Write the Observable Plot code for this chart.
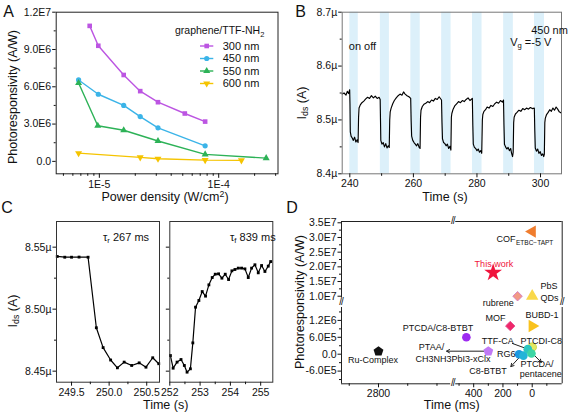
<!DOCTYPE html>
<html><head><meta charset="utf-8">
<script src="https://cdn.jsdelivr.net/npm/d3@7"></script>
<script src="https://cdn.jsdelivr.net/npm/@observablehq/plot@0.6"></script>
<style>
html,body{margin:0;padding:0;background:#fff;}
#wrap{position:relative;width:569px;height:415px;overflow:hidden;font-family:Arial,"Liberation Sans",sans-serif;color:#111;}
#wrap > svg{position:absolute;overflow:visible;}
.lbl{position:absolute;line-height:1;white-space:nowrap;}
.lbl sub{font-size:70%;vertical-align:-0.3em;line-height:0;}
.lbl sup{font-size:70%;vertical-align:0.45em;line-height:0;}
.brk{position:absolute;background:#fff;font-size:10px;line-height:1;transform:translate(-50%,-50%);padding:0 1px;letter-spacing:-1px;}
</style></head>
<body><div id="wrap"></div>
<script>
// ================= DATA =================
// Panel A: photoresponsivity vs power density
const seriesA = ["300 nm", "450 nm", "550 nm", "600 nm"];
const power300 = [8.3e-6, 9.8e-6, 1.6e-5, 2.2e-5, 3.1e-5, 5.2e-5, 7.7e-5];
const resp300  = [1.09e7, 9.3e6, 6.95e6, 5.65e6, 4.76e6, 3.85e6, 3.2e6];
const power450 = [6.7e-6, 9.8e-6, 1.6e-5, 2.2e-5, 3.1e-5, 7.7e-5];
const resp450  = [6.55e6, 5.4e6, 4.5e6, 3.6e6, 2.7e6, 1.25e6];
const power550 = [6.7e-6, 9.7e-6, 1.6e-5, 3.1e-5, 7.7e-5, 2.5e-4];
const resp550  = [6.3e6, 2.87e6, 2.5e6, 1.64e6, 0.56e6, 0.26e6];
const power600 = [6.7e-6, 2.2e-5, 3.1e-5, 7.7e-5, 1.55e-4];
const resp600  = [0.66e6, 0.32e6, 0.21e6, 0.1e6, 0.08e6];
const ticksAX = [1e-5, 1e-4];
const ticksAY = [0, 3e6, 6e6, 9e6, 1.2e7];

// Panel B: on/off current trace
const bandStart = [240, 249.6, 259.2, 268.9, 278.6, 288.4, 298.1];
const bandEnd   = [242.65, 252.45, 262.15, 271.85, 281.6, 291.45, 301.25];
const timeB = [
237.6,238.2,238.8,239.2,239.6,239.95,
240.05,240.15,240.4,240.8,241.1,241.5,241.9,242.3,242.6,
242.75,242.9,243.3,243.8,244.4,245.0,245.6,246.2,246.8,247.4,248.0,248.6,249.2,249.55,
249.65,249.75,250.1,250.5,250.9,251.3,251.7,252.1,252.4,
252.55,252.7,253.0,253.5,254.0,254.6,255.2,255.8,256.4,256.9,257.4,258.0,258.6,259.15,
259.3,259.45,259.8,260.2,260.6,261.0,261.4,261.8,262.1,
262.25,262.4,262.8,263.3,263.9,264.5,265.1,265.7,266.3,266.9,267.5,268.1,268.85,
269.0,269.15,269.5,269.9,270.3,270.7,271.1,271.5,271.8,
271.95,272.1,272.5,273.0,273.6,274.2,274.8,275.4,276.0,276.6,277.2,277.8,278.55,
278.7,278.85,279.2,279.6,280.0,280.4,280.8,281.2,281.5,
281.7,281.85,282.2,282.7,283.2,283.8,284.4,285.0,285.6,286.2,286.8,287.4,288.0,288.35,
288.5,288.65,289.0,289.4,289.8,290.2,290.6,290.9,291.2,291.4,
291.55,291.7,292.1,292.6,293.2,293.8,294.4,295.0,295.6,296.2,296.8,297.4,298.05,
298.2,298.35,298.7,299.1,299.5,299.9,300.3,300.7,301.0,301.2,
301.35,301.5,301.9,302.4,302.9,303.4,303.9,304.4,304.9,305.4,305.9,306.5];
const currentB = [
8.548,8.550,8.546,8.553,8.549,8.556,
8.530,8.478,8.470,8.466,8.462,8.468,8.459,8.463,8.458,
8.505,8.522,8.528,8.532,8.535,8.539,8.542,8.540,8.545,8.541,8.544,8.540,8.542,8.538,
8.500,8.462,8.455,8.458,8.450,8.456,8.448,8.452,8.449,
8.500,8.515,8.522,8.530,8.536,8.541,8.545,8.548,8.546,8.552,8.548,8.545,8.543,8.540,
8.498,8.470,8.462,8.458,8.455,8.452,8.456,8.449,8.447,
8.505,8.518,8.525,8.529,8.531,8.534,8.532,8.537,8.535,8.540,8.538,8.543,8.537,
8.495,8.465,8.458,8.456,8.452,8.455,8.447,8.451,8.444,
8.505,8.512,8.520,8.526,8.530,8.534,8.532,8.536,8.534,8.538,8.541,8.536,8.540,
8.490,8.455,8.449,8.447,8.443,8.446,8.440,8.443,8.438,
8.500,8.510,8.516,8.519,8.524,8.522,8.527,8.525,8.530,8.533,8.531,8.536,8.533,8.537,
8.490,8.455,8.450,8.446,8.449,8.443,8.447,8.438,8.432,8.440,
8.495,8.505,8.511,8.514,8.518,8.516,8.521,8.519,8.522,8.520,8.523,8.521,8.522,
8.480,8.448,8.442,8.446,8.438,8.441,8.434,8.437,8.432,8.436,
8.495,8.503,8.510,8.514,8.519,8.516,8.522,8.518,8.524,8.520,8.515,8.513];
const ticksBX = [240, 260, 280, 300];
const ticksBY = [8.4, 8.5, 8.6, 8.7];

// Panel C: rise / fall zoom
const timeCL = [249.31,249.41,249.50,249.60,249.72,249.83,249.92,250.02,250.11,250.20,250.30,250.40,250.49,250.58,250.66];
const currentCL = [8.5425,8.5419,8.5419,8.5420,8.5419,8.4850,8.4690,8.4590,8.4527,8.4573,8.4546,8.4567,8.4532,8.4608,8.4560];
const timeCR = [252.02,252.11,252.24,252.37,252.48,252.57,252.68,252.76,252.85,252.96,253.07,253.18,253.29,253.40,253.50,253.61,253.72,253.83,253.94,254.05,254.15,254.26,254.37,254.48,254.59,254.70,254.81,254.92,255.03,255.14,255.25,255.33];
const currentCR = [8.4626,8.4524,8.4573,8.4594,8.4546,8.4492,8.4519,8.4728,8.5016,8.5070,8.5142,8.5105,8.5196,8.5255,8.5282,8.5285,8.5250,8.5282,8.5239,8.5309,8.5320,8.5331,8.5331,8.5325,8.5255,8.5331,8.5358,8.5293,8.5352,8.5304,8.5347,8.5384];
const ticksCY = [8.45, 8.50, 8.55];
const ticksCXL = [249.5, 250.0, 250.5];
const ticksCXR = [252, 253, 254, 255];

// Panel D: comparison
const devicesD = ["COF","This work","rubrene","PbS QDs","MOF","BUBD-1","PTCDA/C8-BTBT","PTAA/CH3NH3PbI3-xClx","Ru-Complex","PTCDI-C8","RG6","C8-BTBT","TTF-CA","PTCDA/pentacene"];
const timeD = [0, 267, 100, 0, 150, 0, 450, 300, 2800, 0, 90, 60, 30, 5];
const respD = [3.2e7, 1.8e7, 1.0e7, 1.0e7, 1.0e6, 1.0e6, 6.0e5, 1.0e5, 1.0e5, 2.5e5, 0, -5e4, 1.8e5, 2.5e4];
const ticksDYu = [1.0e7, 1.5e7, 2.0e7, 2.5e7, 3.0e7, 3.5e7];
const ticksDYl = [-6e5, 0, 6e5, 1.2e6];
const ticksDXl = [2800];
const ticksDXr = [400, 200, 0];

// ================= STYLE / LAYOUT =================
const FONT = 'Arial, "Liberation Sans", sans-serif';
const st = fs => ({fontFamily: FONT, fontSize: fs, background: "transparent", overflow: "visible", color: "#111"});
const colorsA = ["#BC55E2", "#3BB4E8", "#2DB257", "#F5C400"];
const symA = ["square", "circle", "triangle", "triangle"];
const rotA = [0, 0, 0, 180];
const sci = v => { if (Math.abs(v) < 1e-9) return "0.0"; const e = Math.floor(Math.log10(Math.abs(v)) + 1e-9); return (v / 10 ** e).toFixed(1) + "E" + e; };
const wrap = document.getElementById("wrap");
function put(svg, left, top) { svg.style.position = "absolute"; svg.style.left = left + "px"; svg.style.top = top + "px"; wrap.appendChild(svg); }
function label(html, x, y, o = {}) {
  const d = document.createElement("div");
  d.className = "lbl"; d.innerHTML = html;
  d.style.left = x + "px"; d.style.top = y + "px";
  d.style.fontSize = (o.size || 12.5) + "px";
  if (o.color) d.style.color = o.color;
  const ax = o.anchor === "start" ? "0%" : o.anchor === "end" ? "-100%" : "-50%";
  d.style.transform = `translate(${ax},-50%)` + (o.rotate ? ` rotate(${o.rotate}deg)` : "");
  wrap.appendChild(d);
}
function brk(x, y) { const d = document.createElement("div"); d.className = "brk"; d.textContent = "//"; d.style.left = x + "px"; d.style.top = y + "px"; wrap.appendChild(d); }
const blank = () => "";

// ================= PANEL A =================
const tableA = [[power300, resp300], [power450, resp450], [power550, resp550], [power600, resp600]]
  .flatMap(([p, r], i) => p.map((x, j) => ({series: seriesA[i], power: x, resp: r[j]})));
const minorAX = [5e-6,6e-6,7e-6,8e-6,9e-6,2e-5,3e-5,4e-5,5e-5,6e-5,7e-5,8e-5,9e-5,2e-4,3e-4];
const minorAY = [1.5e6, 4.5e6, 7.5e6, 1.05e7];
put(Plot.plot({
  width: 285, height: 205, marginLeft: 55.7, marginRight: 7.5, marginTop: 11.7, marginBottom: 31.7,
  style: st("10.5px"),
  x: {type: "log", domain: [4.35e-6, 3.14e-4], label: null},
  y: {domain: [-1e6, 1.2e7], label: null},
  color: {domain: seriesA, range: colorsA},
  symbol: {domain: seriesA, range: symA},
  marks: [
    Plot.line(tableA, {x: "power", y: "resp", stroke: "series", strokeWidth: 1.4}),
    Plot.dot(tableA, {x: "power", y: "resp", fill: "series", symbol: "series", r: 2.6, rotate: d => rotA[seriesA.indexOf(d.series)]}),
    Plot.frame({stroke: "#222"}),
    Plot.axisX(minorAX, {tickSize: 2.5, tickFormat: blank, label: null}),
    Plot.axisX(ticksAX, {tickSize: 4.5, tickPadding: 2, tickFormat: d => "1E" + Math.round(Math.log10(d)), label: null}),
    Plot.axisY(minorAY, {tickSize: 2, tickFormat: blank, label: null}),
    Plot.axisY(ticksAY, {tickSize: 3.5, tickPadding: 1.5, tickFormat: sci, label: null})
  ]
}), 0, 0);

// legend A
const legA = d3.create("svg").attr("width", 120).attr("height", 72).style("left", "170px").style("top", "22px")
  .attr("font-family", FONT).attr("fill", "#111");
const tA = legA.append("text").attr("x", 5).attr("y", 8).attr("dy", "0.35em").attr("font-size", 10.5);
tA.append("tspan").text("graphene/TTF-NH");
tA.append("tspan").attr("font-size", 7.5).attr("dy", 3).text("2");
const d3sym = {square: d3.symbolSquare, circle: d3.symbolCircle, triangle: d3.symbolTriangle};
seriesA.forEach((n, i) => {
  const y = 24 + i * 12.5;
  legA.append("line").attr("x1", 30).attr("x2", 43.3).attr("y1", y).attr("y2", y).attr("stroke", colorsA[i]).attr("stroke-width", 1.4);
  legA.append("path").attr("d", d3.symbol(d3sym[symA[i]], Math.PI * 2.6 * 2.6)()).attr("transform", `translate(36.7,${y}) rotate(${rotA[i]})`).attr("fill", colorsA[i]);
  legA.append("text").attr("x", 52.7).attr("y", y).attr("dy", "0.35em").attr("font-size", 11).text(n);
});
wrap.appendChild(legA.node());

// ================= PANEL B =================
const bands = bandStart.map((s, i) => ({s, e: bandEnd[i]}));
const traceB = timeB.map((t, i) => ({t, v: currentB[i]}));
put(Plot.plot({
  width: 284, height: 205, marginLeft: 56.7, marginRight: 8, marginTop: 11.7, marginBottom: 31.7,
  style: st("10.5px"),
  x: {domain: [237.6, 306.6], label: null},
  y: {domain: [8.4, 8.7], label: null},
  marks: [
    Plot.rect(bands, {x1: "s", x2: "e", fill: "#DCF0FA"}),
    Plot.line(traceB, {x: "t", y: "v", stroke: "#000", strokeWidth: 1.15}),
    Plot.frame({stroke: "#777"}),
    Plot.axisX([250, 270, 290], {tickSize: 2.5, tickFormat: blank, label: null}),
    Plot.axisX(ticksBX, {tickSize: 4, tickPadding: 2, label: null}),
    Plot.axisY([8.45, 8.55, 8.65], {tickSize: 2, tickFormat: blank, label: null}),
    Plot.axisY(ticksBY, {tickSize: 3.5, tickPadding: 1.5, tickFormat: d => d.toFixed(1) + "µ", label: null}),
    Plot.text(["on off"], {frameAnchor: "top-left", dx: 6.6, dy: 30, textAnchor: "start", fontSize: 11}),
    Plot.text(["450 nm"], {frameAnchor: "top-left", dx: 189, dy: 14, fontSize: 11})
  ]
}), 285, 0);

// ================= PANEL C =================
function cPlot(t, v, xDomain, mL, mR, xTicks, xMinor, fmt, yLabels) {
  const rows = t.map((x, i) => ({t: x, v: v[i]}));
  return Plot.plot({
    width: 285, height: 210, marginLeft: mL, marginRight: mR, marginTop: 16, marginBottom: 33.3,
    style: st("10.5px"),
    x: {domain: xDomain, label: null},
    y: {domain: [8.4411, 8.5707], label: null},
    marks: [
      Plot.line(rows, {x: "t", y: "v", stroke: "#000", strokeWidth: 1.2}),
      Plot.dot(rows, {x: "t", y: "v", symbol: "square", fill: "#000", r: 1.6}),
      Plot.frame({stroke: "#333"}),
      Plot.axisX(xMinor, {tickSize: 2.5, tickFormat: blank, label: null}),
      Plot.axisX(xTicks, {tickSize: 4, tickPadding: 2, tickFormat: fmt, label: null}),
      Plot.axisY([8.475, 8.525], {tickSize: 2, tickFormat: blank, label: null}),
      Plot.axisY(ticksCY, {tickSize: 3.5, tickPadding: 1.5, tickFormat: yLabels ? (d => d.toFixed(2) + "µ") : blank, label: null})
    ]
  });
}
put(cPlot(timeCL, currentCL, [249.3, 250.67], 56, 126, ticksCXL, [249.75, 250.25], d => d.toFixed(1), true), 0, 205);
put(cPlot(timeCR, currentCR, [252, 255.4], 169.3, 12.7, ticksCXR, [252.5, 253.5, 254.5], d => String(d), false), 0, 205);

// ================= PANEL D =================
const pentagon = {draw(ctx, size) {
  const R = Math.sqrt(size / 2.3776);
  for (let k = 0; k < 5; k++) { const a = -Math.PI / 2 + k * 2 * Math.PI / 5; const x = R * Math.cos(a), y = R * Math.sin(a); k ? ctx.lineTo(x, y) : ctx.moveTo(x, y); }
  ctx.closePath();
}};
const styleD = {
  "COF": {symbol: "triangle", rotate: -90, fill: "#F07D2E", r: 4.6},
  "This work": {symbol: "star", rotate: 0, fill: "#F0143C", r: 5.6},
  "rubrene": {symbol: "square", rotate: 45, fill: "#F29A86", stroke: "#D07BC8", r: 3.8},
  "PbS QDs": {symbol: "triangle", rotate: 0, fill: "#F9D84A", r: 4.6},
  "MOF": {symbol: "square", rotate: 45, fill: "#F0286A", stroke: "#E05090", r: 3.8},
  "BUBD-1": {symbol: "triangle", rotate: 90, fill: "#F9C21E", r: 4.6},
  "PTCDA/C8-BTBT": {symbol: "circle", rotate: 0, fill: "#9E2BF0", r: 4.3},
  "PTAA/CH3NH3PbI3-xClx": {symbol: pentagon, rotate: 0, fill: "#C07AF5", r: 4.5},
  "Ru-Complex": {symbol: pentagon, rotate: 0, fill: "#111", r: 4.5},
  "PTCDI-C8": {symbol: "circle", rotate: 0, fill: "#E2E860", stroke: "#C8D040", r: 4.3},
  "RG6": {symbol: "circle", rotate: 0, fill: "#1B98E0", r: 4.3},
  "C8-BTBT": {symbol: "circle", rotate: 0, fill: "#23B4D8", r: 4.3},
  "TTF-CA": {symbol: "circle", rotate: 0, fill: "#2CC6C0", r: 4.3},
  "PTCDA/pentacene": {symbol: "circle", rotate: 0, fill: "#3DD6A5", r: 4.3}
};
const pointsD = devicesD.map((n, i) => ({name: n, time: timeD[i], resp: respD[i]}));
const inLeft = p => p.time > 1000, inUpper = p => p.resp > 5e6;
const dotsFor = pts => pts.map(p => { const s = styleD[p.name];
  return Plot.dot([p], {x: "time", y: "resp", symbol: s.symbol, rotate: s.rotate, fill: s.fill, stroke: s.stroke || "none", strokeWidth: 0.8, r: s.r}); });
const labelsUR = [
  {text: "This work", time: 262, resp: 2.10e7, anchor: "middle", color: "#F0143C"},
  {text: "rubrene", time: 126, resp: 7.6e6, anchor: "end"},
  {text: "PbS", time: -57, resp: 1.33e7, anchor: "start"},
  {text: "QDs", time: -57, resp: 9.3e6, anchor: "start"},
  {text: "COF", time: 114, resp: 2.955e7, anchor: "end"}
];
const labelsLR = [
  {text: "MOF", time: 182, resp: 1.29e6, anchor: "end"},
  {text: "BUBD-1", time: 46, resp: 1.40e6, anchor: "start"},
  {text: "PTCDA/C8-BTBT", time: 644, resp: 9.2e5, anchor: "middle"},
  {text: "PTAA/", time: 775, resp: 2.5e5, anchor: "start"},
  {text: "CH3NH3PbI3-xClx", time: 798, resp: -1.6e5, anchor: "start"},
  {text: "RG6", time: 114, resp: -1e4, anchor: "end"},
  {text: "TTF-CA", time: 126, resp: 4.5e5, anchor: "end"},
  {text: "PTCDI-C8", time: 80, resp: 4.7e5, anchor: "start"},
  {text: "PTCDA/", time: 80, resp: -3.6e5, anchor: "start"},
  {text: "pentacene", time: 85, resp: -6.9e5, anchor: "start"},
  {text: "C8-BTBT", time: 302, resp: -6.04e5, anchor: "middle"}
];
const labelsLL = [{text: "Ru-Complex", time: 2838, resp: -2.0e5, anchor: "middle"}];
const arrowsLR = [
  {x1: 331, y1: 1.07e5, x2: 585, y2: 1.07e5},
  {x1: 135, y1: 3.8e5, x2: 32, y2: 1.85e5},
  {x1: 80, y1: -7e4, x2: 146, y2: -4.4e5},
  {x1: -9, y1: -1e4, x2: -62, y2: -2.9e5}
];
const textMarks = (labels) => ["start", "middle", "end"].map(a => Plot.text(labels.filter(l => l.anchor === a), {
  x: "time", y: "resp", text: "text", textAnchor: a, fontSize: 9, fill: l => l.color || "#111"}));

const XL = [3053, 2289], XR = [540, -205], YU = [7.96e6, 3.544e7], YL = [-1.051e6, 1.846e6];
function dPlot(xd, yd, mL, mR, mT, mB, marks) {
  return Plot.plot({width: 284, height: 210, marginLeft: mL, marginRight: mR, marginTop: mT, marginBottom: mB,
    style: st("10.5px"), x: {domain: xd, label: null, axis: null}, y: {domain: yd, label: null, axis: null}, marks});
}
const edge = "#222";
// upper-left
put(dPlot(XL, YU, 56, 116.3, 16, 113.3, [
  Plot.ruleY([YU[1]], {stroke: edge}), Plot.ruleX([XL[0]], {stroke: edge}),
  Plot.axisY([1.25e7, 1.75e7, 2.25e7, 2.75e7, 3.25e7], {tickSize: 2, tickFormat: blank, label: null}),
  Plot.axisY(ticksDYu, {tickSize: 3.5, tickPadding: 1.5, tickFormat: sci, label: null})
]), 285, 205);
// lower-left
put(dPlot(XL, YL, 56, 116.3, 96.7, 31.7, [
  Plot.ruleY([YL[0]], {stroke: edge}), Plot.ruleX([XL[0]], {stroke: edge}),
  Plot.axisY([-9e5, -3e5, 3e5, 9e5, 1.5e6], {tickSize: 2, tickFormat: blank, label: null}),
  Plot.axisY(ticksDYl, {tickSize: 3.5, tickPadding: 1.5, tickFormat: sci, label: null}),
  Plot.axisX([3000, 2600, 2400], {tickSize: 2.5, tickFormat: blank, label: null}),
  Plot.axisX(ticksDXl, {tickSize: 4, tickPadding: 2, tickFormat: d => String(d), label: null}),
  ...dotsFor(pointsD.filter(p => inLeft(p))),
  ...textMarks(labelsLL)
]), 285, 205);
// upper-right
put(dPlot(XR, YU, 167.7, 7.3, 16, 113.3, [
  Plot.ruleY([YU[1]], {stroke: edge}), Plot.ruleX([XR[1]], {stroke: edge}),
  ...dotsFor(pointsD.filter(p => !inLeft(p) && inUpper(p))),
  ...textMarks(labelsUR),
  Plot.text(["ETBC−TAPT"], {x: 114, y: 2.955e7, dx: 0.5, dy: 4, textAnchor: "start", fontSize: 6.5})
]), 285, 205);
// lower-right
put(dPlot(XR, YL, 167.7, 7.3, 96.7, 31.7, [
  Plot.ruleY([YL[0]], {stroke: edge}), Plot.ruleX([XR[1]], {stroke: edge}),
  Plot.axisX([500, 300, 100, -100], {tickSize: 2.5, tickFormat: blank, label: null}),
  Plot.axisX(ticksDXr, {tickSize: 4, tickPadding: 2, tickFormat: d => String(d), label: null}),
  Plot.arrow(arrowsLR, {x1: "x1", y1: "y1", x2: "x2", y2: "y2", stroke: "#222", strokeWidth: 1, headLength: 5}),
  ...dotsFor(pointsD.filter(p => !inLeft(p) && !inUpper(p))),
  ...textMarks(labelsLR)
]), 285, 205);
brk(452.7, 221); brk(452.7, 383.3); brk(341, 301.7); brk(561.7, 301.7);

// ================= TEXT =================
label("A", 8.5, 11.5, {size: 16});
label("B", 300.5, 12, {size: 16});
label("C", 7, 208, {size: 16});
label("D", 292, 208, {size: 16});
label("Photoresponsivity (A/W)", 13, 97, {rotate: -90});
label("Power density (W/cm<sup>2</sup>)", 165, 197);
label("I<sub>ds</sub> (A)", 301.7, 103, {rotate: -90});
label("Time (s)", 445, 197);
label("V<sub>g</sub> =-5 V", 530.8, 42, {size: 11});
label("I<sub>ds</sub> (A)", 13.3, 311, {rotate: -90});
label("Time (s)", 165.7, 405);
label("τ<sub>r</sub> 267 ms", 103, 236.7, {size: 11, anchor: "start"});
label("τ<sub>f</sub> 839 ms", 230, 236.7, {size: 11, anchor: "start"});
label("Photoresponsivity (A/W)", 300, 302, {rotate: -90});
label("Time (ms)", 451.7, 405);
</script></body></html>
